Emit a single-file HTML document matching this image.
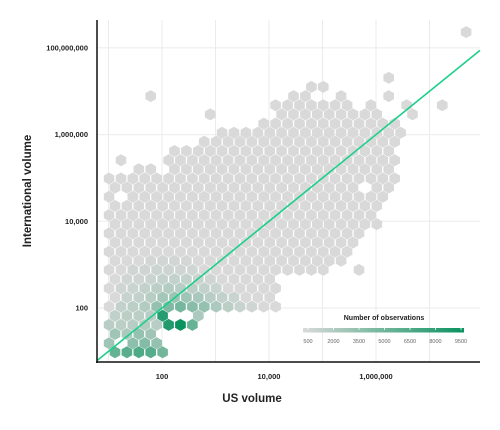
<!DOCTYPE html>
<html><head><meta charset="utf-8"><style>
body{margin:0;background:#fff;font-family:"Liberation Sans",sans-serif}
svg text{font-family:"Liberation Sans",sans-serif}
</style></head><body>
<svg id="chart" width="500" height="425" viewBox="0 0 500 425">
<g id="grid"></g>
<g id="hexes"></g>
<g id="line"></g>
<g id="axes"></g>
<g id="legend"></g>
<text x="252" y="402" text-anchor="middle" font-size="11.5" font-weight="bold" fill="#222">US volume</text>
<text transform="translate(31,191) rotate(-90)" text-anchor="middle" font-size="11.5" font-weight="bold" fill="#222">International volume</text>
</svg>
<script>
// data
const xTicks=[2,4,6];
const xTickLabels=["100","10,000","1,000,000"];
const yTicks=[2,4,6,8];
const yTickLabels=["100","10,000","1,000,000","100,000,000"];
// [row, firstCol, lastCol]
const rowSpans=[[0,0,4],[1,0,4],[2,0,3],[3,0,7],[4,0,4],[5,0,14],[6,0,13],[7,0,14],[8,0,13],[9,0,18],[10,0,19],[11,0,20],[12,0,20],[13,0,21],[14,0,22],[15,0,22],[16,0,22],[17,0,23],[18,0,23],[19,0,24],[20,2,23],[21,5,24],[22,5,23],[23,8,24],[24,9,24],[25,13,24],[26,14,22],[27,14,20]];
const extraCells=[[4,7],[9,21],[21,1],[26,8],[26,25],[27,22],[27,25],[27,28],[28,3],[28,15],[28,16],[28,19],[28,23],[29,17],[29,18],[30,23],[35,30]];
const missingCells=[[1,1],[4,5],[4,6],[20,4],[18,21],[17,1]];
// [row, col, count]
const counts=[[0,0,5500],[0,1,6000],[0,2,6500],[0,3,6200],[0,4,5000],
[1,0,3000],[1,2,3800],[1,3,4200],[1,4,3500],
[2,0,3000],[2,1,2500],[2,2,3500],[2,3,3000],
[3,0,2000],[3,1,1800],[3,2,2000],[3,3,2200],[3,4,2000],[3,5,8500],[3,6,9600],[3,7,5500],
[4,0,1600],[4,1,1800],[4,2,1800],[4,3,2000],[4,4,8200],[4,7,2500],
[5,1,1500],[5,2,1800],[5,3,2200],[5,4,3500],[5,5,4500],[5,6,4800],[5,7,4000],[5,8,3500],[5,9,2500],[5,10,1800],[5,11,1300],[5,12,1000],
[6,1,1300],[6,2,1500],[6,3,2000],[6,4,2800],[6,5,3200],[6,6,3000],[6,7,2600],[6,8,2000],[6,9,1500],[6,10,1200],
[7,1,1000],[7,2,1200],[7,3,1500],[7,4,1800],[7,5,2200],[7,6,2000],[7,7,1800],[7,8,1500],[7,9,1200],
[8,1,900],[8,2,1000],[8,3,1200],[8,4,1400],[8,5,1500],[8,6,1400],[8,7,1200],[8,8,1000],
[9,2,900],[9,3,1000],[9,4,1100],[9,5,1100],[9,6,1000],[9,7,900],
[10,3,800],[10,4,900],[10,5,900],[10,6,800]];
const baseCount=300;
const legendTicks=[500,2000,3500,5000,6500,8000,9500];

// scales
const xScale=l=>162+(l-2)*53.5;
const yScale=l=>308-(l-2)*43.35;
const plot={x0:97,x1:480,y0:20,y1:362};
const hexX=(r,c)=>115+11.9*(c-(r%2?0.5:0));
const hexY=r=>352.3-9.15*r;
const cScale=v=>{const t=Math.max(0,Math.min(1,(v-500)/9000));
 const a=[217,217,217],b=[10,146,95];
 return `rgb(${a.map((x,i)=>Math.round(x+(b[i]-x)*t)).join(',')})`;};
const NS="http://www.w3.org/2000/svg";
function mk(tag,attrs,parent){const e=document.createElementNS(NS,tag);for(const k in attrs)e.setAttribute(k,attrs[k]);parent.appendChild(e);return e;}

// grid
const g=document.getElementById('grid');
for(let l=1;l<=7;l++){const x=xScale(l);if(x>plot.x0&&x<plot.x1){const e=mk('line',{x1:x,x2:x,y1:plot.y0,y2:plot.y1,stroke:'#ebebeb','stroke-width':1},g);

}}
yTicks.forEach(l=>{const y=yScale(l);const e=mk('line',{x1:plot.x0,x2:plot.x1,y1:y,y2:y,stroke:'#ebebeb','stroke-width':1},g);

});

// hexes
const cellMap=new Map();
rowSpans.forEach(([r,a,b])=>{for(let c=a;c<=b;c++)cellMap.set(r+','+c,baseCount);});
extraCells.forEach(([r,c])=>cellMap.set(r+','+c,baseCount));
missingCells.forEach(([r,c])=>cellMap.delete(r+','+c));
counts.forEach(([r,c,v])=>cellMap.set(r+','+c,v));
const hg=document.getElementById('hexes');
const hw=5.3,hr=6.0;
cellMap.forEach((v,k)=>{const [r,c]=k.split(',').map(Number);const x=hexX(r,c),y=hexY(r);
 const pts=[[0,-hr],[hw,-hr/2],[hw,hr/2],[0,hr],[-hw,hr/2],[-hw,-hr/2]].map(p=>(x+p[0]).toFixed(1)+','+(y+p[1]).toFixed(1)).join(' ');
 const e=mk('polygon',{points:pts,fill:cScale(v)},hg);
 
 });

// y=x line
const lg=document.getElementById('line');
const lx0=0.785,lx1=7.944;
const ln=mk('line',{x1:xScale(lx0),y1:yScale(lx0),x2:xScale(lx1),y2:yScale(lx1),stroke:'#1ccf8a','stroke-width':1.6},lg);



// axes
const ag=document.getElementById('axes');
const ax1=mk('line',{x1:plot.x0,x2:plot.x0,y1:plot.y0,y2:plot.y1+1,stroke:'#111','stroke-width':1.5},ag);


const ax2=mk('line',{x1:plot.x0-1,x2:plot.x1,y1:plot.y1,y2:plot.y1,stroke:'#111','stroke-width':1.5},ag);


xTicks.forEach((l,i)=>{const t=mk('text',{x:xScale(l),y:379,'text-anchor':'middle','font-size':7.5,'font-weight':'bold',fill:'#222'},ag);t.textContent=xTickLabels[i];

});
yTicks.forEach((l,i)=>{const t=mk('text',{x:88,y:yScale(l)+2.5,'text-anchor':'end','font-size':7.5,'font-weight':'bold',fill:'#222'},ag);t.textContent=yTickLabels[i];

});

// legend
const lgd=document.getElementById('legend');
const defs=mk('defs',{},lgd);
const grad=mk('linearGradient',{id:'lgrad',x1:0,x2:1,y1:0,y2:0},defs);
mk('stop',{offset:0,'stop-color':cScale(500)},grad);
mk('stop',{offset:1,'stop-color':cScale(9500)},grad);
const lt=mk('text',{x:384,y:320,'text-anchor':'middle','font-size':7,'font-weight':'bold',fill:'#222'},lgd);lt.textContent='Number of observations';


const lx=v=>304+(v-500)/9000*153;
const bar=mk('rect',{x:303,y:328,width:161,height:4.5,fill:'url(#lgrad)'},lgd);


legendTicks.forEach(v=>{const x=lx(v)+4;
 const tk=mk('line',{x1:x,x2:x,y1:328,y2:330,stroke:'#fff','stroke-width':0.8},lgd);
 
 
 const t=mk('text',{x:x,y:343,'text-anchor':'middle','font-size':5.5,fill:'#666'},lgd);t.textContent=v;
 
 });
</script>
</body></html>
